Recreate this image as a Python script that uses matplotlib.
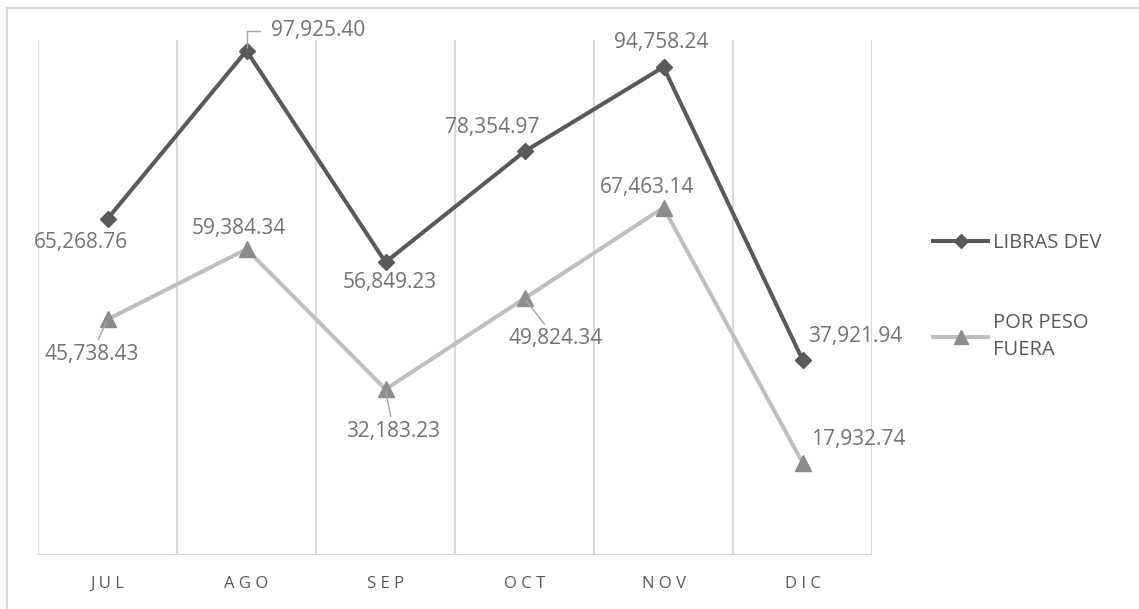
import matplotlib
matplotlib.use('Agg')
import matplotlib.pyplot as plt
from matplotlib.patches import Rectangle

plt.rcParams['font.family'] = ['Open Sans', 'DejaVu Sans']

months = ['JUL', 'AGO', 'SEP', 'OCT', 'NOV', 'DIC']
libras_dev = [65268.76, 97925.40, 56849.23, 78354.97, 94758.24, 37921.94]
por_peso_fuera = [45738.43, 59384.34, 32183.23, 49824.34, 67463.14, 17932.74]

# label offsets in pixels (dx, dy) and whether a leader line is drawn
libras_offsets = [(-27, -24, False), (72, 20, 'elbow'), (4, -20, False),
                  (-32, 24, False), (-2, 24, False), (53, 23, False)]
peso_offsets = [(-16, -35, True), (-8, 21, False), (8, -42, True),
                (31, -40, True), (-16, 20, False), (56, 23, False)]

dark = '#595959'
light = '#bfbfbf'
tri = '#8c8c8c'
grid = '#d9d9d9'
label_col = '#737373'

fig = plt.figure(figsize=(11.39, 6.09), dpi=100)
ax = fig.add_axes([38 / 1139, 54 / 609, 834 / 1139, 515 / 609])

x = list(range(len(months)))
l1, = ax.plot(x, libras_dev, color=dark, lw=2.9, marker='D', ms=8.5,
              mfc=dark, mec=dark, label='LIBRAS DEV', zorder=4)
l2, = ax.plot(x, por_peso_fuera, color=light, lw=2.9, marker='^', ms=12,
              mfc=tri, mec=tri, label='POR PESO\nFUERA', zorder=3)

ax.set_xlim(-0.5, len(months) - 0.5)
ax.set_ylim(0, 100000)

for b in [i - 0.5 for i in range(len(months) + 1)]:
    ax.axvline(b, color=grid, lw=1.5, zorder=1)
ax.axhline(0, color=grid, lw=1.5, zorder=1)

for s in ax.spines.values():
    s.set_visible(False)
ax.set_yticks([])
ax.set_xticks(x)
ax.set_xticklabels([' '.join(m) for m in months], color=dark, fontsize=12)
ax.tick_params(axis='x', length=0, pad=15)


def put_labels(vals, offsets):
    for i, (v, (dx, dy, lead)) in enumerate(zip(vals, offsets)):
        txt = f'{v:,.2f}'
        kw = dict(xytext=(dx, dy), textcoords='offset pixels', ha='center',
                  va='center', fontsize=15, color=label_col, zorder=5)
        if lead == 'elbow':
            kw['arrowprops'] = dict(arrowstyle='-', color='#a6a6a6', lw=1,
                                    relpos=(0, 0.5), shrinkA=6, shrinkB=2,
                                    connectionstyle='angle,angleA=0,angleB=90,rad=0')
        elif lead:
            kw['arrowprops'] = dict(arrowstyle='-', color='#a6a6a6', lw=1,
                                    shrinkA=1, shrinkB=2)
        ax.annotate(txt, (i, v), **kw)


put_labels(libras_dev, libras_offsets)
put_labels(por_peso_fuera, peso_offsets)

leg = fig.legend(handles=[l1, l2], loc='upper left',
                 bbox_to_anchor=(933 / 1139, 1 - 233 / 609),
                 bbox_transform=fig.transFigure, frameon=False,
                 fontsize=14.5, handlelength=2.75, handletextpad=0.25,
                 borderpad=0, borderaxespad=0, labelspacing=3.0,
                 markerscale=0.8)
for t in leg.get_texts():
    t.set_color(dark)
    t.set_linespacing(1.45)

fig.patches.append(Rectangle((7 / 1139, -0.1), 1.2, 1.1 - 8 / 609,
                             transform=fig.transFigure, fill=False,
                             edgecolor=grid, lw=1.5))

fig.savefig('out.png', dpi=100)
